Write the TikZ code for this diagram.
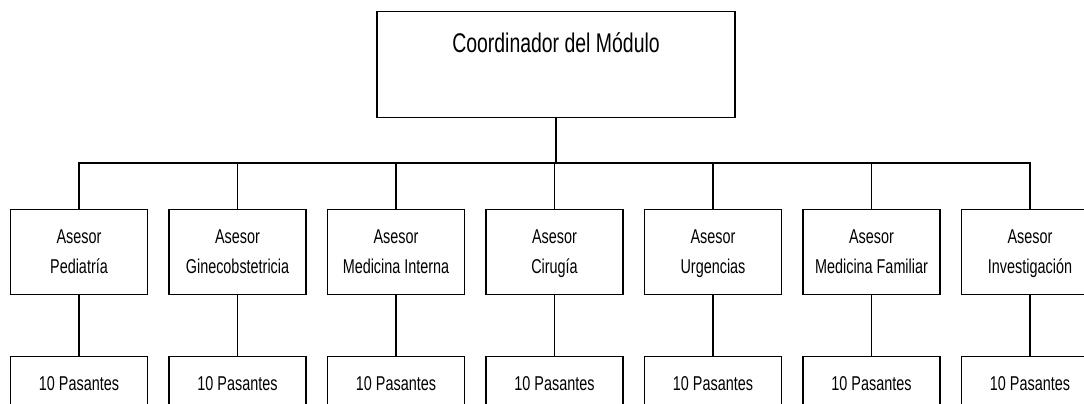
\documentclass[tikz,border=0pt]{standalone}
\usepackage{fontspec}
\setmainfont{Liberation Sans}[FakeStretch=0.72]
\begin{document}
\begin{tikzpicture}[x=1pt,y=-1pt,
  line width=1.2pt,
  box/.style={draw=black, line width=1.2pt, rectangle, inner sep=0pt, align=center},
  topbox/.style={box, minimum width=358pt, text height=41pt, text depth=65pt, font=\fontsize{27}{30}\selectfont},
  advbox/.style={box, minimum width=137pt, minimum height=85pt, font=\fontsize{20}{30}\selectfont},
  pasbox/.style={box, minimum width=137pt, text height=34pt, text depth=31pt, font=\fontsize{20}{22}\selectfont},
  conn/.style={draw=black, line width=1.2pt}
]
\useasboundingbox (0,0) rectangle (1084,404);
\clip (0,0) rectangle (1084,404);
\fill[white] (0,0) rectangle (1084,404);
\node[topbox, anchor=north] (top) at (556,11) {Coordinador del Módulo};
\coordinate (bus) at (556,163);
\draw[conn] (top.south) -- (bus);
\foreach \i/\x/\t in {1/79/Pediatría, 2/237.5/Ginecobstetricia, 3/396/Medicina Interna, 4/554.5/Cirugía, 5/713/Urgencias, 6/871.5/Medicina Familiar, 7/1030/Investigación}{
  \node[advbox, anchor=north] (a\i) at (\x,209) {\strut Asesor\\\strut\t};
  \node[pasbox, anchor=north] (p\i) at (\x,356) {10 Pasantes};
  \draw[conn] (a\i.north) |- (bus);
  \draw[conn] (a\i.south) -- (p\i.north);
}
\end{tikzpicture}
\end{document}
